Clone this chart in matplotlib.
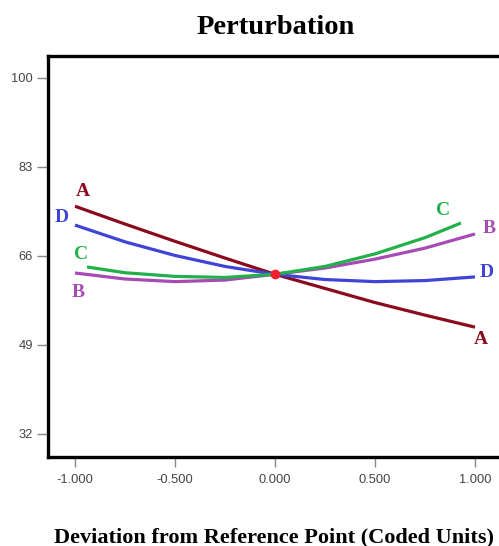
import matplotlib
matplotlib.use("Agg")
import matplotlib.pyplot as plt

# Data
x_full = [-1.0, -0.75, -0.5, -0.25, 0.0, 0.25, 0.5, 0.75, 1.0]
x_c = [-0.94, -0.75, -0.5, -0.25, 0.0, 0.25, 0.5, 0.75, 0.93]
y_A = [75.5, 72.1, 68.8, 65.6, 62.5, 59.8, 57.1, 54.7, 52.4]
y_B = [62.75, 61.6, 61.1, 61.4, 62.5, 63.7, 65.4, 67.5, 70.2]
y_C = [63.9, 62.8, 62.1, 61.9, 62.5, 64.0, 66.4, 69.5, 72.3]
y_D = [71.9, 68.7, 66.1, 64.0, 62.5, 61.5, 61.1, 61.3, 62.0]
ref_point = (0.0, 62.5)
y_ticks = [32, 49, 66, 83, 100]
x_ticks = [-1.0, -0.5, 0.0, 0.5, 1.0]
x_tick_labels = ["-1.000", "-0.500", "0.000", "0.500", "1.000"]

colors = {"A": "#8B0A1E", "B": "#A64AB4", "C": "#22B04A", "D": "#3F44D6"}

fig = plt.figure(figsize=(4.99, 5.46), dpi=100)
W, H = 499, 546
ax = fig.add_axes([48 / W, (H - 457) / H, (505 - 48) / W, (457 - 56) / H])

lw = 2.3
ax.plot(x_full, y_A, color=colors["A"], lw=lw, solid_capstyle="butt")
ax.plot(x_full, y_D, color=colors["D"], lw=lw, solid_capstyle="butt")
ax.plot(x_full, y_B, color=colors["B"], lw=lw, solid_capstyle="butt")
ax.plot(x_c, y_C, color=colors["C"], lw=lw, solid_capstyle="butt")
ax.plot([ref_point[0]], [ref_point[1]], "o", color="#F0202E", ms=6, zorder=5)

lab = dict(fontfamily="Liberation Serif", fontweight="bold", fontsize=14,
           ha="center", va="center")
ax.text(-0.96, 78.4, "A", color=colors["A"], **lab)
ax.text(-1.065, 73.3, "D", color=colors["D"], **lab)
ax.text(-0.97, 66.2, "C", color=colors["C"], **lab)
ax.text(-0.985, 59.1, "B", color=colors["B"], **lab)
ax.text(0.84, 74.6, "C", color=colors["C"], **lab)
ax.text(1.07, 71.3, "B", color=colors["B"], **lab)
ax.text(1.06, 62.9, "D", color=colors["D"], **lab)
ax.text(1.03, 50.0, "A", color=colors["A"], **lab)

ax.set_xlim(-1.135, 1.15)
ax.set_ylim(27.6, 104.2)
ax.set_xticks(x_ticks)
ax.set_xticklabels(x_tick_labels)
ax.set_yticks(y_ticks)
ax.set_yticklabels([str(v) for v in y_ticks])
ax.tick_params(axis="both", direction="out", color="#888888", labelcolor="#444444",
               labelsize=9.3, width=1.0)
ax.tick_params(axis="y", length=8, pad=3)
ax.tick_params(axis="x", length=7, pad=5)
for lab_t in ax.get_xticklabels() + ax.get_yticklabels():
    lab_t.set_fontfamily("Liberation Sans")
for s in ax.spines.values():
    s.set_linewidth(2.4)
    s.set_color("black")

fig.text(276 / W, 1 - 34 / H, "Perturbation", ha="center", va="baseline",
         fontfamily="Liberation Serif", fontweight="bold", fontsize=20.5)
fig.text(274 / W, 1 - 542 / H, "Deviation from Reference Point (Coded Units)",
         ha="center", va="baseline", fontfamily="Liberation Serif",
         fontweight="bold", fontsize=16)

fig.savefig("out.png", dpi=100)
